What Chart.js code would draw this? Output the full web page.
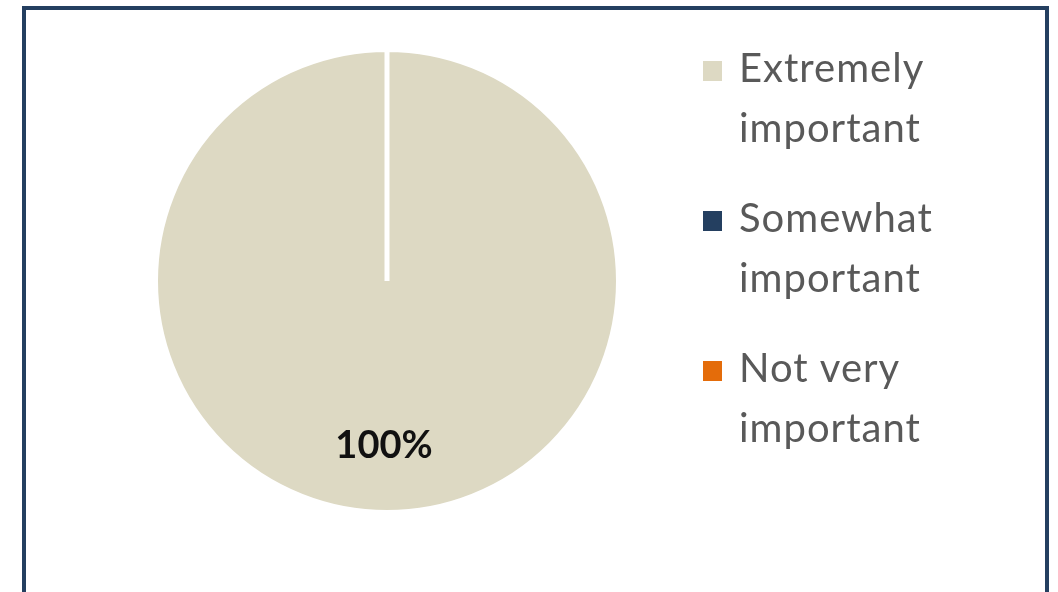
<!DOCTYPE html>
<html>
<head>
<meta charset="utf-8">
<script src="https://cdn.jsdelivr.net/npm/chart.js@4"></script>
<style>
  body { margin: 0; background: #ffffff; overflow: hidden; }
  #wrap { position: relative; width: 1058px; height: 592px; }
  #frame {
    position: absolute; left: 22px; top: 6px; width: 1019px; height: 620px;
    border: 4px solid #243f60;
  }
  canvas { position: absolute; left: 0; top: 0; }
</style>
</head>
<body>
<div id="wrap">
  <div id="frame"></div>
  <canvas id="myChart" width="1058" height="592"></canvas>
</div>
<script>
// データ
const categories = [["Extremely", "important"], ["Somewhat", "important"], ["Not very", "important"]];
const values = [100, 0, 0];
const sliceColors = ["#ddd9c3", "#243f60", "#e46c0a"];

// 100% ラベル
const pctLabel = {
  id: "pctLabel",
  afterDatasetsDraw(chart) {
    const ctx = chart.ctx;
    const meta = chart.getDatasetMeta(0);
    const total = values.reduce((a, b) => a + b, 0);
    ctx.save();
    ctx.font = "bold 38px Lato";
    ctx.fillStyle = "#111111";
    ctx.textAlign = "center";
    ctx.textBaseline = "middle";
    meta.data.forEach((arc, i) => {
      if (!values[i]) return;
      const p = arc.getProps(["x", "y", "startAngle", "endAngle", "outerRadius"], true);
      const mid = (p.startAngle + p.endAngle) / 2;
      const d = p.outerRadius * 0.71;
      const txt = Math.round(values[i] / total * 100) + "%";
      ctx.fillText(txt, p.x + Math.cos(mid) * d - 3, p.y + Math.sin(mid) * d);
    });
    ctx.restore();
  }
};

// 凡例
const sideLegend = {
  id: "sideLegend",
  afterDraw(chart) {
    const ctx = chart.ctx;
    const labels = chart.data.labels;
    const colors = chart.data.datasets[0].backgroundColor;
    ctx.save();
    ctx.font = "40px Lato";
    ctx.letterSpacing = "1px";
    ctx.fillStyle = "#595959";
    ctx.textBaseline = "alphabetic";
    labels.forEach((lab, i) => {
      const base = 82 + i * 150;
      ctx.fillStyle = colors[i];
      ctx.fillRect(703, base - 21, 19, 20);
      ctx.fillStyle = "#595959";
      lab.forEach((line, j) => {
        ctx.fillText(line, 739, base + j * 60);
      });
    });
    ctx.restore();
  }
};

const ctx = document.getElementById("myChart").getContext("2d");
const chart = new Chart(ctx, {
  type: "pie",
  data: {
    labels: categories,
    datasets: [{
      data: values,
      backgroundColor: sliceColors,
      borderColor: "#ffffff",
      borderWidth: 5
    }]
  },
  options: {
    responsive: false,
    animation: false,
    layout: { padding: { left: 153, top: 47, right: 437, bottom: 77 } },
    plugins: {
      legend: { display: false },
      tooltip: { enabled: false }
    }
  },
  plugins: [pctLabel, sideLegend]
});
</script>
</body>
</html>
